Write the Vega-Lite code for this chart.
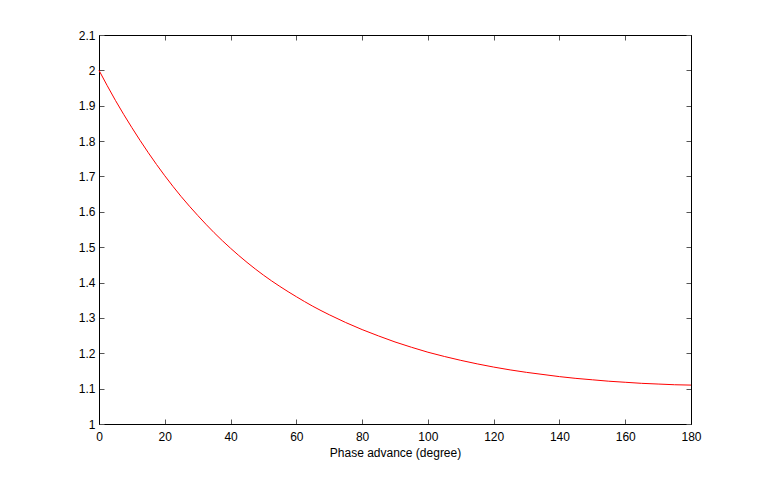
{
  "$schema": "https://vega.github.io/schema/vega-lite/v6.json",
  "autosize": {"type": "none"},
  "padding": {"left": 99, "top": 35, "right": 72, "bottom": 54},
  "width": 592,
  "height": 389,
  "background": "white",
  "config": {
    "view": {"stroke": "#000000", "strokeWidth": 1},
    "axis": {
      "labelFont": "Liberation Sans",
      "titleFont": "Liberation Sans",
      "labelFontSize": 12,
      "titleFontSize": 12,
      "labelColor": "#000000",
      "titleColor": "#000000",
      "titleFontWeight": "normal",
      "domainColor": "#000000",
      "tickColor": "#555555",
      "tickSize": -5,
      "labelFlush": false,
      "labelOverlap": false,
      "grid": false
    }
  },
  "data": {"values": [
    {"phase": 0, "value": 2.000},
    {"phase": 5, "value": 1.915},
    {"phase": 10, "value": 1.838},
    {"phase": 15, "value": 1.767},
    {"phase": 20, "value": 1.702},
    {"phase": 25, "value": 1.643},
    {"phase": 30, "value": 1.590},
    {"phase": 35, "value": 1.541},
    {"phase": 40, "value": 1.497},
    {"phase": 45, "value": 1.457},
    {"phase": 50, "value": 1.421},
    {"phase": 55, "value": 1.389},
    {"phase": 60, "value": 1.360},
    {"phase": 65, "value": 1.333},
    {"phase": 70, "value": 1.309},
    {"phase": 75, "value": 1.287},
    {"phase": 80, "value": 1.267},
    {"phase": 85, "value": 1.249},
    {"phase": 90, "value": 1.232},
    {"phase": 95, "value": 1.217},
    {"phase": 100, "value": 1.203},
    {"phase": 105, "value": 1.191},
    {"phase": 110, "value": 1.180},
    {"phase": 115, "value": 1.170},
    {"phase": 120, "value": 1.161},
    {"phase": 125, "value": 1.153},
    {"phase": 130, "value": 1.146},
    {"phase": 135, "value": 1.140},
    {"phase": 140, "value": 1.134},
    {"phase": 145, "value": 1.129},
    {"phase": 150, "value": 1.125},
    {"phase": 155, "value": 1.121},
    {"phase": 160, "value": 1.118},
    {"phase": 165, "value": 1.115},
    {"phase": 170, "value": 1.113},
    {"phase": 175, "value": 1.111},
    {"phase": 180, "value": 1.110}
  ]},
  "layer": [
    {
      "mark": {"type": "line", "color": "#ff0000", "strokeWidth": 1, "interpolate": "monotone"},
      "encoding": {
        "x": {"field": "phase", "type": "quantitative", "scale": {"domain": [0, 180], "nice": false},
              "axis": {"title": "Phase advance (degree)", "values": [0,20,40,60,80,100,120,140,160,180], "labelPadding": 12, "titlePadding": 5}},
        "y": {"field": "value", "type": "quantitative", "scale": {"domain": [1, 2.1], "nice": false, "zero": false},
              "axis": {"title": null, "values": [1,1.1,1.2,1.3,1.4,1.5,1.6,1.7,1.8,1.9,2,2.1], "format": "~g", "labelPadding": 9}}
      }
    },
    {
      "mark": {"type": "line", "opacity": 0},
      "encoding": {
        "x": {"field": "phase", "type": "quantitative",
              "axis": {"orient": "top", "title": null, "labels": false, "values": [0,20,40,60,80,100,120,140,160,180]}},
        "y": {"field": "value", "type": "quantitative",
              "axis": {"orient": "right", "title": null, "labels": false, "values": [1,1.1,1.2,1.3,1.4,1.5,1.6,1.7,1.8,1.9,2,2.1]}}
      }
    }
  ],
  "resolve": {"axis": {"x": "independent", "y": "independent"}}
}
